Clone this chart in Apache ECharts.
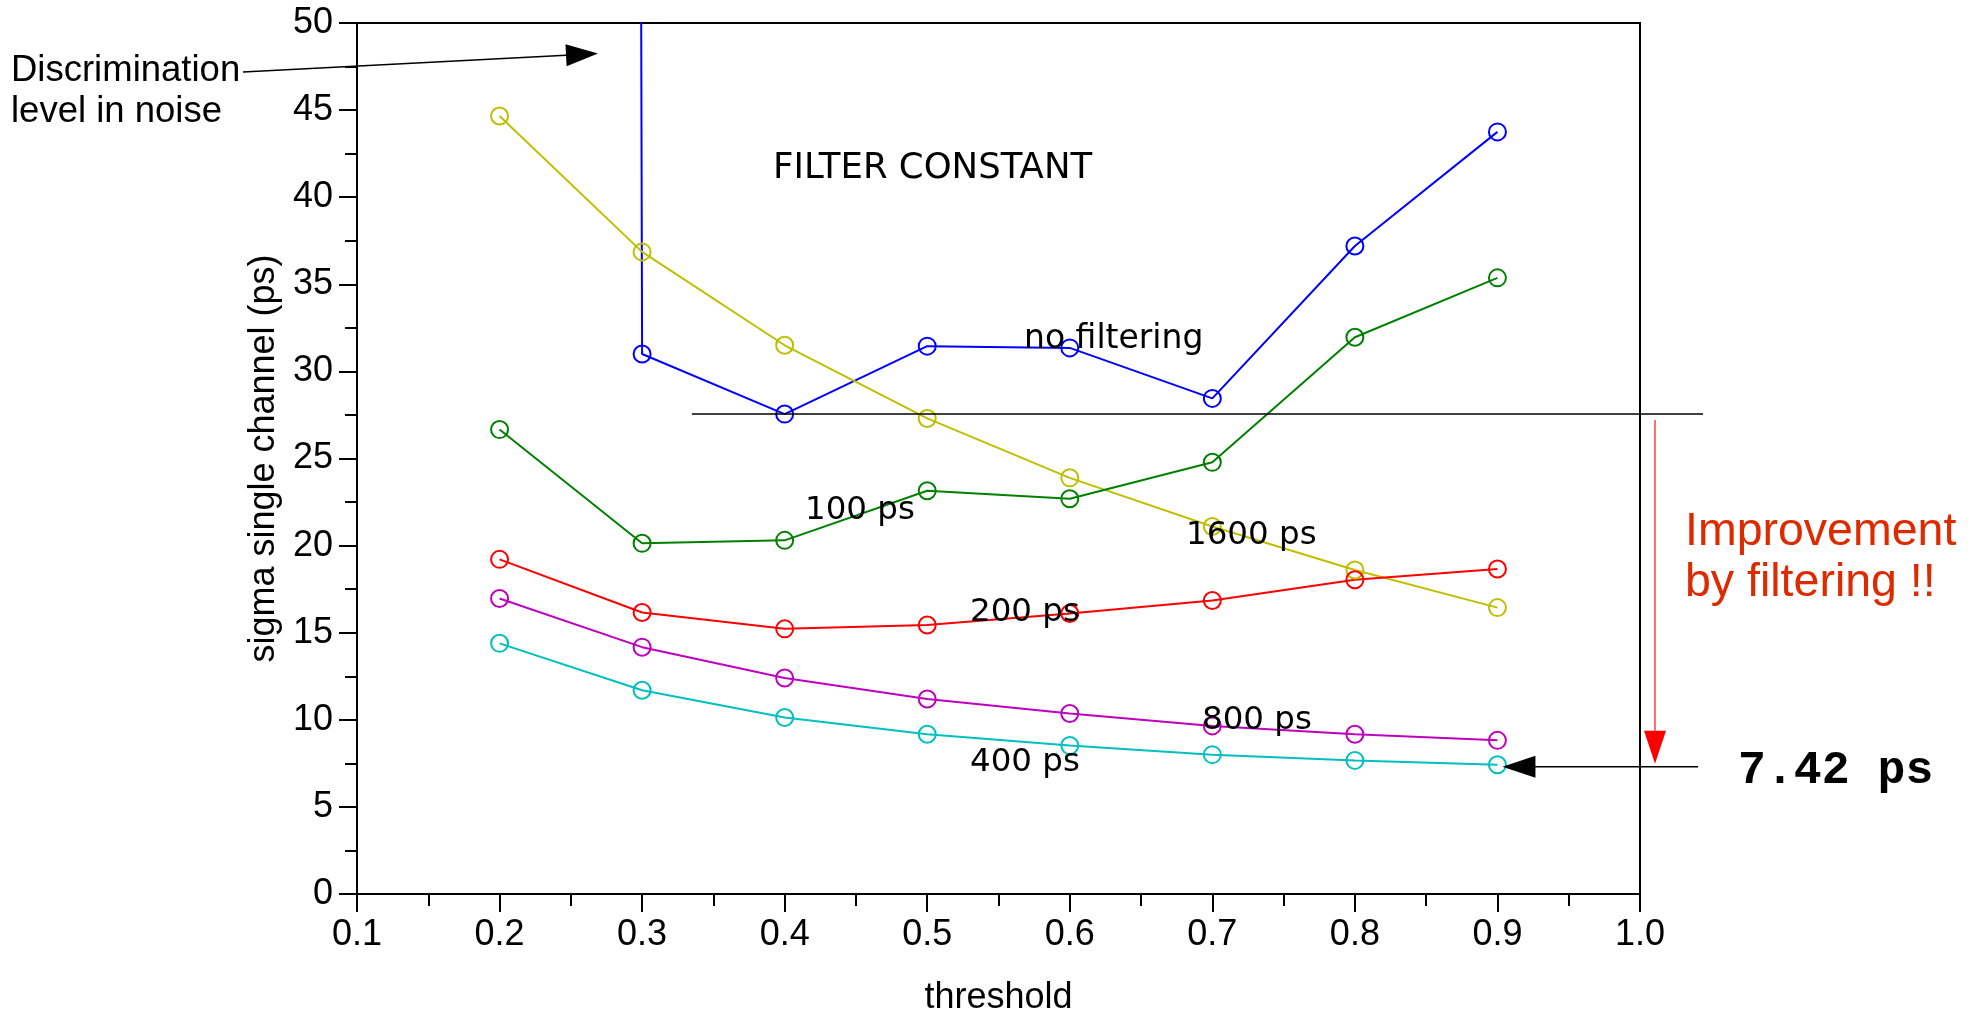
<!DOCTYPE html>
<html><head><meta charset="utf-8">
<script src="https://cdn.jsdelivr.net/npm/echarts@6/dist/echarts.min.js"></script>
<style>html,body{margin:0;padding:0;background:#fff}#c{width:1971px;height:1015px}</style>
</head><body><div id="c"></div>
<script>
// ---- data ----
const thresholds = [0.2, 0.3, 0.4, 0.5, 0.6, 0.7, 0.8, 0.9];
const noFiltering = [3000, 31.0, 27.55, 31.45, 31.35, 28.45, 37.2, 43.75]; // 0.2: discrimination in noise (off scale)
const filter1600 = [44.66, 36.86, 31.5, 27.3, 23.89, 21.1, 18.6, 16.44];
const filter100  = [26.66, 20.13, 20.3, 23.15, 22.69, 24.78, 31.96, 35.37];
const filter200  = [19.21, 16.16, 15.22, 15.44, 16.1, 16.85, 18.04, 18.66];
const filter800  = [16.96, 14.17, 12.4, 11.19, 10.36, 9.65, 9.17, 8.82];
const filter400  = [14.39, 11.7, 10.13, 9.17, 8.52, 8.0, 7.67, 7.42];
const xTicks = [0.1, 0.2, 0.3, 0.4, 0.5, 0.6, 0.7, 0.8, 0.9, 1.0];
const yTicks = [0, 5, 10, 15, 20, 25, 30, 35, 40, 45, 50];

const AX = '"Liberation Sans", Arial, sans-serif';
const DV = '"DejaVu Sans", sans-serif';

const chart = echarts.init(document.getElementById('c'), null, {renderer: 'canvas'});

function mk(name, vals, color) {
  return {
    name, type: 'line',
    data: thresholds.map((t, i) => [t, vals[i]]),
    symbol: 'circle', symbolSize: 17,
    lineStyle: {color, width: 2},
    itemStyle: {color: 'rgba(0,0,0,0)', borderColor: color, borderWidth: 2},
    emphasis: {disabled: true},
    clip: true
  };
}

function axisCommon() {
  return {
    axisLine: {onZero: false, lineStyle: {color: '#000', width: 2}},
    axisTick: {length: 18, lineStyle: {color: '#000', width: 2}},
    minorTick: {show: true, splitNumber: 2, length: 12, lineStyle: {color: '#000', width: 2}},
    splitLine: {show: false}
  };
}

chart.setOption({
  animation: false,
  grid: {left: 357, right: 331, top: 23, bottom: 121, show: true, borderColor: '#000', borderWidth: 2,
    containLabel: false, outerBoundsMode: 'none'},
  xAxis: Object.assign(axisCommon(), {
    type: 'value', min: xTicks[0], max: xTicks[xTicks.length - 1], interval: 0.1,
    name: 'threshold', nameLocation: 'middle', nameGap: 86,
    nameTextStyle: {fontFamily: AX, fontSize: 36, color: '#000'},
    axisLabel: {fontFamily: AX, fontSize: 36, color: '#000', margin: 23,
      formatter: v => (Math.round(v * 10) / 10).toFixed(1)}
  }),
  yAxis: Object.assign(axisCommon(), {
    type: 'value', min: yTicks[0], max: yTicks[yTicks.length - 1], interval: 5,
    name: 'sigma single channel (ps)', nameLocation: 'middle', nameGap: 73,
    nameTextStyle: {fontFamily: AX, fontSize: 36, color: '#000'},
    axisLabel: {fontFamily: AX, fontSize: 36, color: '#000', margin: 24}
  }),
  series: [
    mk('no filtering', noFiltering, '#0000ff'),
    mk('1600 ps', filter1600, '#bfbf00'),
    mk('100 ps', filter100, '#008000'),
    mk('200 ps', filter200, '#ff0000'),
    mk('800 ps', filter800, '#bf00bf'),
    mk('400 ps', filter400, '#00bfbf')
  ]
});

const P = (x, y) => chart.convertToPixel({gridIndex: 0}, [x, y]);

// series labels (pixel positions of text)
const seriesLabels = [
  {text: 'FILTER CONSTANT', x: 773, y: 169, size: 35.5},
  {text: 'no filtering', x: 1024, y: 339, size: 33},
  {text: '100 ps', x: 805, y: 511, size: 32.5},
  {text: '1600 ps', x: 1186, y: 536, size: 32.5},
  {text: '200 ps', x: 970, y: 613, size: 32.5},
  {text: '800 ps', x: 1202, y: 721, size: 32.5},
  {text: '400 ps', x: 970, y: 763, size: 32.5}
];

const g = [];
seriesLabels.forEach(l => g.push({type: 'text', z: 100, style: {text: l.text, x: l.x, y: l.y,
  fontFamily: DV, fontSize: l.size, fill: '#000', align: 'left', verticalAlign: 'middle'}}));

// Discrimination annotation
g.push({type: 'text', z: 100, style: {text: 'Discrimination', x: 11, y: 71, fontFamily: AX, fontSize: 36.5, fill: '#000', align: 'left', verticalAlign: 'middle'}});
g.push({type: 'text', z: 100, style: {text: 'level in noise', x: 11, y: 112, fontFamily: AX, fontSize: 36.5, fill: '#000', align: 'left', verticalAlign: 'middle'}});
(function () {
  const x0 = 243, y0 = 72, x1 = 598, y1 = 53.5;
  const L = 32, W = 11;
  const dx = x1 - x0, dy = y1 - y0, len = Math.hypot(dx, dy);
  const ux = dx / len, uy = dy / len;
  const bx = x1 - ux * L, by = y1 - uy * L;
  g.push({type: 'line', z: 100, shape: {x1: x0, y1: y0, x2: bx, y2: by}, style: {stroke: '#000', lineWidth: 1.5}});
  g.push({type: 'polygon', z: 100, shape: {points: [[x1, y1], [bx - uy * W, by + ux * W], [bx + uy * W, by - ux * W]]}, style: {fill: '#000'}});
})();

// horizontal reference at best no-filtering value
const bestNoFilter = Math.min(...noFiltering);
const yRef = P(0.4, bestNoFilter)[1];
g.push({type: 'line', z: 100, shape: {x1: 692, y1: yRef, x2: 1703, y2: yRef}, style: {stroke: '#000', lineWidth: 1.5}});

// best filtered point
const bestFiltered = filter400[filter400.length - 1];
const bp = P(thresholds[thresholds.length - 1], bestFiltered);

// red improvement arrow
const rx = 1655;
const rTip = bp[1] - 1;
g.push({type: 'line', z: 100, shape: {x1: rx, y1: yRef + 6, x2: rx, y2: rTip - 30}, style: {stroke: '#ff7070', lineWidth: 2}});
g.push({type: 'polygon', z: 100, shape: {points: [[rx, rTip], [rx - 11, rTip - 33], [rx + 11, rTip - 33]]}, style: {fill: '#ff0000'}});

// black arrow to best point
const ay = bp[1] + 2, ax = bp[0] + 5;
g.push({type: 'line', z: 100, shape: {x1: ax + 30, y1: ay, x2: 1698, y2: ay}, style: {stroke: '#000', lineWidth: 1.5}});
g.push({type: 'polygon', z: 100, shape: {points: [[ax, ay], [ax + 33, ay - 11], [ax + 33, ay + 11]]}, style: {fill: '#000'}});

g.push({type: 'text', z: 100, style: {text: bestFiltered.toFixed(2) + ' ps', x: 1738, y: 771,
  fontFamily: '"Liberation Mono", "Courier New", monospace', fontWeight: 'bold', fontSize: 46.5, fill: '#000', align: 'left', verticalAlign: 'middle'}});

g.push({type: 'text', z: 100, style: {text: 'Improvement', x: 1685, y: 532, fontFamily: AX, fontSize: 46.5, fill: '#dd2a00', align: 'left', verticalAlign: 'middle'}});
g.push({type: 'text', z: 100, style: {text: 'by filtering !!', x: 1685, y: 583, fontFamily: AX, fontSize: 46.5, fill: '#dd2a00', align: 'left', verticalAlign: 'middle'}});

chart.setOption({graphic: g});
</script>
</body></html>
